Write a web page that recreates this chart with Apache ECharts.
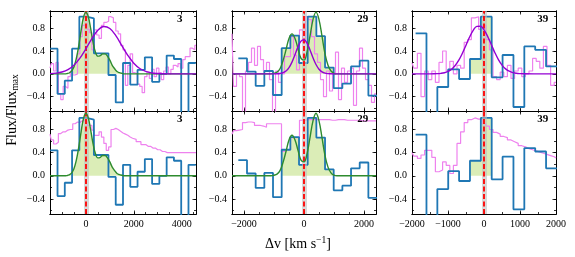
<!DOCTYPE html>
<html>
<head>
<meta charset="utf-8">
<script src="https://cdn.jsdelivr.net/npm/echarts@6/dist/echarts.min.js"></script>
<style>
html,body{margin:0;padding:0;background:#ffffff;}
#chart{width:575px;height:257px;}
</style>
</head>
<body>
<div id="chart"></div>
<script>
function range(a, b, s) { const out = []; for (let i = 0; a + i * s <= b + 1e-9; i++) out.push(Math.round((a + i * s) * 1000) / 1000); return out; }

// ---------------- DATA ----------------
const panelLabels = ['3', '29', '39'];
const xLimits = [[-1500, 4600], [-2400, 2400], [-2000, 2000]];
const xMajorTicks = [[0, 2000, 4000], [-2000, 0, 2000], [-2000, -1000, 0, 1000, 2000]];
const xMinorTickStep = 500;
const yLimits = [[-0.65, 1.1], [-0.66, 1.12]];
const yMajorTicks = [-0.4, 0.0, 0.4, 0.8];
const yMinorTickStep = 0.2;
const restVelocity = 0;

// blue binned spectra: bin edges and values (same in top and bottom rows)
const blueEdges1 = [-1490, -1186, -882, -578, -274, 30, 334, 638, 942, 1246, 1550, 1854, 2158, 2462, 2766, 3070, 3374, 3678, 3982, 4286, 4590];
const blueVals1 = [0.44, -0.35, -0.12, 0.44, 1.00, 0.97, 0.36, 0.36, -0.02, -0.50, 0.19, -0.19, 0.07, 0.29, -0.14, 0.00, 0.32, 0.26, -0.75, 0.19];
const blueEdges2 = [-2189, -1900, -1611, -1322, -1033, -744, -455, -166, 123, 412, 701, 990, 1279, 1568, 1857, 2146, 2435];
const blueVals2 = [0.27, 0.04, -0.21, 0.05, -0.37, 0.45, 0.67, 0.19, 1.00, 0.66, 0.11, -0.25, -0.17, 0.13, 0.23, -0.38];
const blueEdges3 = [-1900, -1598, -1296, -994, -692, -390, -88, 214, 516, 818, 1120, 1422, 1724, 2026];
const blueVals3 = [0.71, -0.90, -0.23, 0.08, -0.09, 0.26, 1.00, -0.06, 0.33, -0.58, 0.48, 0.42, 0.13];
// shaded bins (first, last+1) for panels 29 and 39
const shadeBins2 = [5, 11];
const shadeBins3 = [5, 7];

// violet spectra, top row (noisy)
const pinkTopX1 = range(-1500, 4600, 100);
const pinkTopY1 = [0.10, 0.18, 0.05, 0.20, -0.35, -0.45, -0.22, -0.25, -0.05, 0.05,
  -0.02, 0.00, 0.35, 0.65, 0.85, 0.88, 0.78, 0.72, 0.42, 0.77,
  0.68, 0.62, 0.85, 0.90, 0.92, 1.00, 0.98, 0.90, 0.75, 0.70,
  0.50, 0.42, -0.20, 0.15, 0.35, 0.02, 0.00, -0.18, -0.22, -0.33,
  -0.05, 0.03, -0.08, 0.08, -0.05, 0.10, 0.02, -0.10, 0.05, 0.12,
  0.00, 0.08, 0.15, 0.12, 0.18, 0.10, 0.25, 0.30, 0.30, 0.45,
  0.42, 0.50];
const pinkTopX2 = range(-2400, 2400, 100);
const pinkTopY2 = [0.70, -0.22, 0.00, -0.05, -0.70, 0.05, 0.20, 0.45, 0.15, 0.48,
  0.25, 0.05, 0.20, -0.10, -0.70, 0.05, -0.15, 0.00, 0.30, 0.30,
  0.65, 0.33, 0.07, 0.77, 0.55, 1.00, 0.95, 0.65, 0.35, 0.20,
  -0.10, -0.40, 0.05, -0.30, 0.00, 0.38, -0.45, 0.10, -0.15, 0.05,
  0.10, -0.55, 0.05, 0.45, 0.10, -0.10, -0.20, -0.50, -0.35];
const pinkTopX3 = range(-2000, 2000, 100);
const pinkTopY3 = [0.19, 0.10, 0.36, -0.40, 0.05, -0.10, 0.05, -0.15, 0.20, 0.40,
  0.05, 0.22, 0.00, 0.15, 0.10, 0.55, 0.60, 0.98, 1.00, 0.78,
  0.85, 0.60, 0.42, -0.05, -0.10, 0.03, -0.05, 0.15, -0.08, 0.05,
  0.10, -0.05, 0.00, 0.05, 0.27, 0.22, 0.10, 0.48, 0.15, -0.20,
  -0.15];

// violet spectra, bottom row (continuum-like)
const pinkBotX1 = range(-1500, 2000, 100).concat(range(2200, 4600, 200));
const pinkBotY1 = [0.72, 0.62, 0.55, 0.58, 0.73, 0.76, 0.76, 0.79, 0.80, 0.80,
  0.90, 0.93, 0.92, 0.95, 0.96, 0.93, 0.87, 0.87, 0.79, 0.70,
  0.70, 0.76, 0.67, 0.56, 0.44, 0.50, 0.80, 0.82, 0.80, 0.77,
  0.74, 0.72, 0.70, 0.67, 0.65, 0.63,
  0.59, 0.54, 0.51, 0.48, 0.45, 0.42, 0.40, 0.40, 0.40, 0.40, 0.40, 0.40, 0.40];
const pinkBotX2 = range(-2400, 2400, 100);
const pinkBotY2 = [0.72, 0.78, 0.79, 0.80, 0.92, 0.93, 0.93, 0.92, 0.87, 0.87,
  0.86, 0.84, 0.90, 0.90, 0.90, 0.90, 0.90, 0.42, 0.45, 0.45,
  0.66, 0.66, 0.66, 0.96, 0.96, 0.97, 0.97, 0.97, 0.97, 0.97,
  0.97, 0.97, 0.97, 0.96, 0.96, 0.97, 0.97, 0.97, 0.96, 0.96,
  0.96, 0.96, 0.96, 0.95, 0.95, 0.95, 0.95, 0.95, 0.95];
const pinkBotX3 = range(-2000, 2000, 100);
const pinkBotY3 = [0.40, 0.34, 0.30, 0.36, 0.44, 0.44, 0.32, 0.07, 0.10, 0.24,
  0.18, 0.04, 0.18, 0.56, 0.76, 0.92, 0.97, 1.00, 0.98, 0.98,
  0.90, 0.86, 0.80, 0.75, 0.72, 0.68, 0.66, 0.62, 0.59, 0.56,
  0.52, 0.50, 0.47, 0.45, 0.43, 0.41, 0.39, 0.37, 0.35, 0.33,
  0.31];

// green line-fit profiles (panels 3 and 29)
const greenX1 = [-1500].concat(range(-1000, 1600, 100)).concat([4600]);
const greenY1 = [0, 0.00, 0.00, 0.004, 0.015, 0.047, 0.12, 0.27, 0.49, 0.76, 0.99,
  1.08, 1.00, 0.79, 0.55, 0.38, 0.31, 0.32, 0.35, 0.35, 0.31,
  0.24, 0.15, 0.09, 0.04, 0.02, 0.01, 0.00, 0];
const greenX2 = [-2400].concat(range(-1200, 1200, 100)).concat([2400]);
const greenY2 = [0, 0, 0.00, 0.01, 0.03, 0.09, 0.23, 0.42, 0.62, 0.70, 0.62, 0.44, 0.27,
  0.24, 0.38, 0.66, 0.95, 1.08, 0.95, 0.66, 0.35, 0.15, 0.05, 0.01, 0.00, 0, 0];

// purple single-gaussian profiles (top row)
const purpleX1 = range(-1500, 3500, 250).concat([4600]);
const purpleY1 = [0.004, 0.012, 0.032, 0.074, 0.152, 0.275, 0.439, 0.616, 0.762, 0.828,
  0.793, 0.669, 0.496, 0.324, 0.186, 0.094, 0.042, 0.016, 0.006, 0.002, 0.0, 0];
const purpleX2 = [-2400].concat(range(-1000, 1000, 100)).concat([2400]);
const purpleY2 = [0, 0.00, 0.002, 0.007, 0.02, 0.05, 0.109, 0.206, 0.336, 0.472, 0.572,
  0.598, 0.539, 0.419, 0.281, 0.163, 0.081, 0.035, 0.013, 0.004, 0.001, 0.0, 0];
const purpleX3 = [-2000].concat(range(-1500, 1100, 100)).concat([2000]);
const purpleY3 = [0, 0.00, 0.001, 0.004, 0.009, 0.02, 0.043, 0.082, 0.146, 0.239, 0.361,
  0.502, 0.644, 0.762, 0.83, 0.833, 0.771, 0.657, 0.517, 0.374, 0.25,
  0.154, 0.087, 0.046, 0.022, 0.01, 0.004, 0.001, 0];

// ---------------- STYLE / LAYOUT ----------------
const FONT = "'Liberation Serif', 'DejaVu Serif', serif";
const BLUE = '#1f77b4', PINK = '#ee82ee', GREEN = '#2e8b2e', PURPLE = '#9400d3', RED = '#ff0000';
const FILL = 'rgba(154,205,50,0.5)';
const colBox = [{ left: 50, width: 146 }, { left: 232, width: 144 }, { left: 412, width: 144 }];
const rowBox = [{ top: 11, height: 100 }, { top: 111, height: 103 }];
const MAJOR = 3.5, MINOR = 2;

function zip(xs, ys) { return xs.map((x, i) => [x, ys[i]]); }
function stepPts(edges, vals, a, b) {
  const pts = [];
  for (let i = a; i < b; i++) { pts.push([edges[i], vals[i]]); pts.push([edges[i + 1], vals[i]]); }
  return pts;
}
function minorTicks(lo, hi, step) {
  const out = [];
  for (let k = Math.ceil(lo / step - 1e-9); k * step <= hi + 1e-9; k++) out.push(+(k * step).toFixed(6));
  return out;
}
const fmtX = v => (v < 0 ? '\u2212' : '') + Math.abs(v);
const fmtY = v => (v < -1e-9 ? '\u2212' : '') + Math.abs(v).toFixed(1);

function axis(g, lo, hi, pos, ticks, len, labels, fmt) {
  return {
    type: 'value', gridIndex: g, min: lo, max: hi, position: pos,
    axisLine: { show: true, onZero: false, lineStyle: { color: '#000', width: 1 } },
    axisTick: { show: true, inside: true, length: len, customValues: ticks, lineStyle: { color: '#000', width: 0.8 } },
    axisLabel: labels ? { show: true, customValues: labels, formatter: fmt, color: '#000', fontFamily: FONT, fontSize: 10, margin: 5, showMinLabel: true, showMaxLabel: true } : { show: false },
    splitLine: { show: false }, minorTick: { show: false }, minorSplitLine: { show: false }
  };
}

const blueEdges = [blueEdges1, blueEdges2, blueEdges3];
const blueVals = [blueVals1, blueVals2, blueVals3];
const shadeBins = [null, shadeBins2, shadeBins3];
const pinkTop = [zip(pinkTopX1, pinkTopY1), zip(pinkTopX2, pinkTopY2), zip(pinkTopX3, pinkTopY3)];
const pinkBot = [zip(pinkBotX1, pinkBotY1), zip(pinkBotX2, pinkBotY2), zip(pinkBotX3, pinkBotY3)];
const greens = [zip(greenX1, greenY1), zip(greenX2, greenY2), null];
const purples = [zip(purpleX1, purpleY1), zip(purpleX2, purpleY2), zip(purpleX3, purpleY3)];

const grids = [], xAxes = [], yAxes = [], series = [], graphics = [];
for (let r = 0; r < 2; r++) {
  for (let c = 0; c < 3; c++) {
    const g = r * 3 + c;
    grids.push({ left: colBox[c].left, top: rowBox[r].top, width: colBox[c].width, height: rowBox[r].height });
    const [x0, x1] = xLimits[c], [y0, y1] = yLimits[r];
    const xm = minorTicks(x0, x1, xMinorTickStep), ym = minorTicks(y0, y1, yMinorTickStep);
    xAxes.push(axis(g, x0, x1, 'bottom', xMajorTicks[c], MAJOR, r === 1 ? xMajorTicks[c] : null, fmtX));
    xAxes.push(axis(g, x0, x1, 'bottom', xm, MINOR, null));
    xAxes.push(axis(g, x0, x1, 'top', xMajorTicks[c], MAJOR, null));
    xAxes.push(axis(g, x0, x1, 'top', xm, MINOR, null));
    yAxes.push(axis(g, y0, y1, 'left', yMajorTicks, MAJOR, yMajorTicks, fmtY));
    yAxes.push(axis(g, y0, y1, 'left', ym, MINOR, null));
    yAxes.push(axis(g, y0, y1, 'right', yMajorTicks, MAJOR, null));
    yAxes.push(axis(g, y0, y1, 'right', ym, MINOR, null));
    const base = { type: 'line', xAxisIndex: 4 * g, yAxisIndex: 4 * g, symbol: 'none', showSymbol: false, silent: true, clip: true, animation: false };

    // shaded region
    if (greens[c] && c === 0) {
      series.push(Object.assign({}, base, { data: greens[c], smooth: 0.4, z: 1, lineStyle: { width: 0, opacity: 0 }, areaStyle: { color: FILL, origin: 0 } }));
    } else if (shadeBins[c]) {
      series.push(Object.assign({}, base, { data: stepPts(blueEdges[c], blueVals[c], shadeBins[c][0], shadeBins[c][1]), z: 1, lineStyle: { width: 0, opacity: 0 }, areaStyle: { color: FILL, origin: 0 } }));
    }
    // violet spectrum
    series.push(Object.assign({}, base, { data: r === 0 ? pinkTop[c] : pinkBot[c], step: 'middle', z: 2, lineStyle: { color: PINK, width: 1.2 } }));
    // grey band at rest velocity
    series.push(Object.assign({}, base, { data: [], z: 3, markLine: { silent: true, symbol: ['none', 'none'], label: { show: false }, animation: false, data: [{ xAxis: restVelocity }], lineStyle: { color: 'rgba(190,190,190,0.6)', width: 5, type: 'solid' } } }));
    // blue binned
    series.push(Object.assign({}, base, { data: stepPts(blueEdges[c], blueVals[c], 0, blueVals[c].length), z: 4, lineStyle: { color: BLUE, width: 1.8 } }));
    // green fit
    if (greens[c]) series.push(Object.assign({}, base, { data: greens[c], smooth: 0.4, z: 5, lineStyle: { color: GREEN, width: 1.4 } }));
    // purple gaussian (top row)
    if (r === 0) series.push(Object.assign({}, base, { data: purples[c], smooth: 0.4, z: 6, lineStyle: { color: PURPLE, width: 1.4 } }));
    // red dashed at rest velocity
    series.push(Object.assign({}, base, { data: [], z: 7, markLine: { silent: true, symbol: ['none', 'none'], label: { show: false }, animation: false, data: [{ xAxis: restVelocity }], lineStyle: { color: RED, width: 1.8, type: [5, 2.5] } } }));

    graphics.push({ type: 'text', x: colBox[c].left + 0.87 * colBox[c].width, y: rowBox[r].top + 3, z: 100,
      style: { text: panelLabels[c], font: "bold 11px 'Liberation Serif'", fill: '#000', align: 'left', verticalAlign: 'top', textAlign: 'left', textVerticalAlign: 'top' } });
  }
}

graphics.push({ type: 'text', x: 298, y: 244, z: 100,
  style: { text: '{a|\u0394v [km s}{b|\u22121}{a|]}', fill: '#000', align: 'center', verticalAlign: 'middle', textAlign: 'center', textVerticalAlign: 'middle',
    rich: { a: { fontFamily: FONT, fontSize: 14, lineHeight: 17, verticalAlign: 'middle', fill: '#000' }, b: { fontFamily: FONT, fontSize: 9.5, lineHeight: 9, verticalAlign: 'top', fill: '#000' } } } });
graphics.push({ type: 'text', x: 12, y: 110, rotation: Math.PI / 2, z: 100,
  style: { text: '{a|Flux/Flux}{b|max}', fill: '#000', align: 'center', verticalAlign: 'middle', textAlign: 'center', textVerticalAlign: 'middle',
    rich: { a: { fontFamily: FONT, fontSize: 14, lineHeight: 17, verticalAlign: 'middle', fill: '#000' }, b: { fontFamily: FONT, fontSize: 9.5, lineHeight: 9, verticalAlign: 'bottom', fill: '#000' } } } });

const chart = echarts.init(document.getElementById('chart'), null, { renderer: 'canvas' });
chart.setOption({
  animation: false,
  backgroundColor: '#ffffff',
  grid: grids, xAxis: xAxes, yAxis: yAxes, series: series, graphic: graphics
});
</script>
</body>
</html>
